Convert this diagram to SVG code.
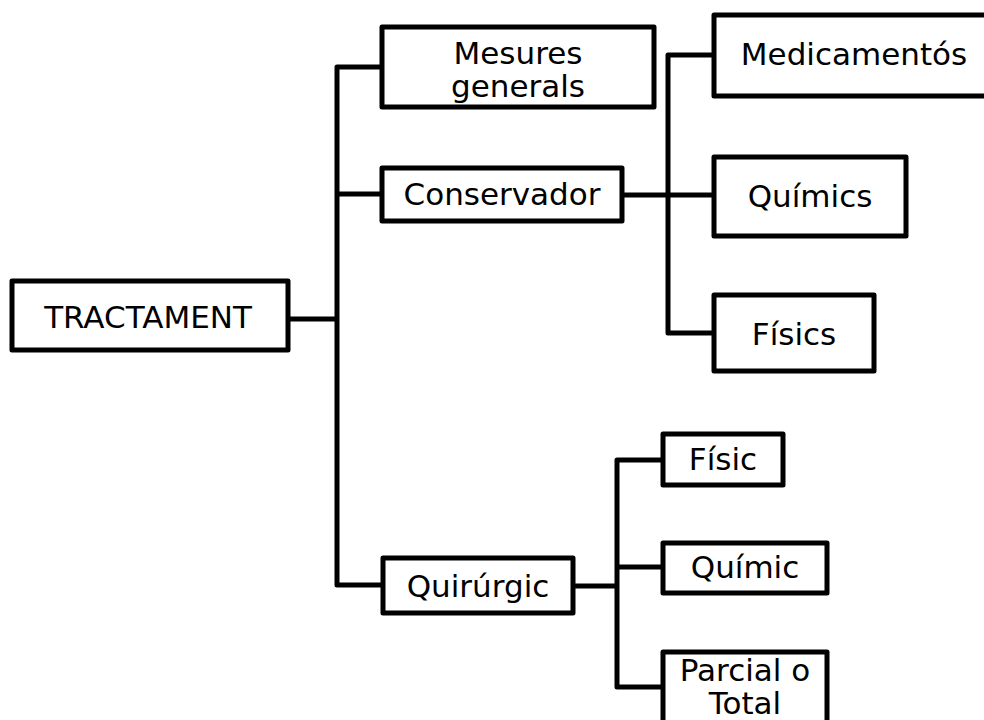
<svg xmlns="http://www.w3.org/2000/svg" width="984" height="720" viewBox="0 0 984 720">
<style>
.box{fill:#fff;stroke:#000;stroke-width:5;stroke-linejoin:round}
.lbl{font-family:"DejaVu Sans","Verdana",sans-serif;font-size:31px;fill:#000;text-anchor:middle}
.conn{fill:none;stroke:#000;stroke-width:5;stroke-linejoin:round;stroke-linecap:butt}
</style>
<rect width="984" height="720" fill="#fff"/>
<g id="connectors">
<polyline class="conn" points="288,319 337,319"/>
<polyline class="conn" points="382,67 337,67 337,585 383,585"/>
<polyline class="conn" points="337,194 382,194"/>
<polyline class="conn" points="622,195 714,195"/>
<polyline class="conn" points="714,55 668,55 668,333 714,333"/>
<polyline class="conn" points="573,586 617,586"/>
<polyline class="conn" points="663,460 617,460 617,687 663,687"/>
<polyline class="conn" points="617,567 663,567"/>
</g>
<g id="tractament">
<rect class="box" x="12" y="281" width="276" height="69"/>
<text class="lbl" x="148" y="328">TRACTAMENT</text>
</g>
<g id="mesures">
<rect class="box" x="382" y="27" width="272" height="80"/>
<text class="lbl" x="518" y="64">Mesures</text>
<text class="lbl" x="518" y="97">generals</text>
</g>
<g id="conservador">
<rect class="box" x="382" y="168" width="240" height="53"/>
<text class="lbl" x="502" y="205">Conservador</text>
</g>
<g id="quirurgic">
<rect class="box" x="383" y="558" width="190" height="55"/>
<text class="lbl" x="478" y="597">Quirúrgic</text>
</g>
<g id="medicaments">
<rect class="box" x="714" y="15" width="280" height="81"/>
<text class="lbl" x="854" y="65">Medicamentós</text>
</g>
<g id="quimics">
<rect class="box" x="714" y="157" width="192" height="79"/>
<text class="lbl" x="810" y="207">Químics</text>
</g>
<g id="fisics">
<rect class="box" x="714" y="295" width="160" height="76"/>
<text class="lbl" x="794" y="345">Físics</text>
</g>
<g id="fisic">
<rect class="box" x="663" y="434" width="120" height="51"/>
<text class="lbl" x="723" y="470">Físic</text>
</g>
<g id="quimic">
<rect class="box" x="663" y="543" width="164" height="50"/>
<text class="lbl" x="745" y="578">Químic</text>
</g>
<g id="parcial">
<rect class="box" x="663" y="652" width="164" height="72"/>
<text class="lbl" x="745" y="681">Parcial o</text>
<text class="lbl" x="745" y="714">Total</text>
</g>
</svg>
